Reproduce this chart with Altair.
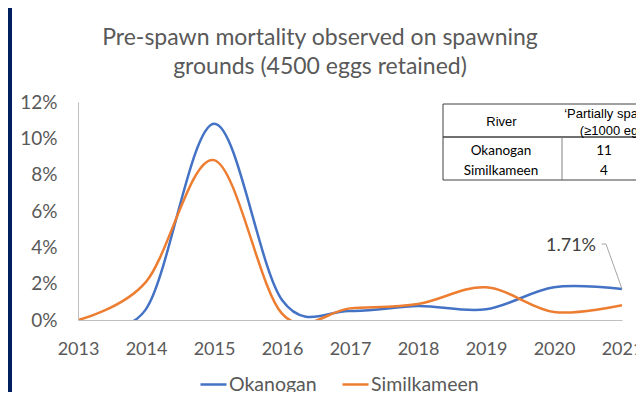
import altair as alt
import pandas as pd

# ---------------- data ----------------
years = [2013, 2014, 2015, 2016, 2017, 2018, 2019, 2020, 2021]
okanogan = [0.0, 0.6, 10.8, 1.1, 0.5, 0.77, 0.59, 1.8, 1.71]         # percent
similkameen = [0.0, 2.1, 8.8, 0.35, 0.64, 0.88, 1.8, 0.44, 0.81]     # percent
series = ["Okanogan", "Similkameen"]
colors = ["#4472C4", "#ED7D31"]
y_ticks = [0, 0.02, 0.04, 0.06, 0.08, 0.10, 0.12]
title_lines = ["Pre-spawn mortality observed on spawning", "grounds (4500 eggs retained)"]
table_rivers = ["Okanogan", "Similkameen"]
table_counts = [11, 4]
table_header = ["River", "\u2018Partially spawned\u2019", "(\u22651000 eggs)"]
label_year = 2021
label_value = 1.71

rows = []
for name, vals in zip(series, [okanogan, similkameen]):
    for yr, v in zip(years, vals):
        rows.append({"year": yr, "river": name, "value": v / 100})
df = pd.DataFrame(rows)

# ---------------- style ----------------
W, H = 544, 218
FONT = "Lato"
GREY = "#595959"
NAVY = "#002060"

x_enc = alt.X(
    "year:Q",
    scale=alt.Scale(domain=[2013, 2021], nice=False, zero=False),
    axis=alt.Axis(values=years, format="d", title=None, labelFlush=False, ticks=False,
                  grid=False, domainColor="#BFBFBF", labelColor=GREY, labelFontSize=18,
                  labelFont=FONT, labelPadding=20, zindex=1),
)
y_enc = alt.Y(
    "value:Q",
    scale=alt.Scale(domain=[0, 0.12], nice=False, zero=True),
    axis=alt.Axis(values=y_ticks, format=".0%", title=None, ticks=False, grid=False,
                  domainColor="#BFBFBF", labelColor=GREY, labelFontSize=19, labelFont=FONT,
                  labelPadding=21, zindex=1),
)

one = pd.DataFrame({"a": [0]})

# navy frame strip at the left edge of the card
frame_strip = alt.Chart(one).mark_rect(color=NAVY).encode(
    x=alt.value(-80), x2=alt.value(-66), y=alt.value(-100), y2=alt.value(400)
)

# title as two centred text lines
title_parts = []
for i, line in enumerate(title_lines):
    title_parts.append(
        alt.Chart(pd.DataFrame({"t": [line]})).mark_text(
            font=FONT, fontSize=23, color=GREY, baseline="alphabetic", align="center"
        ).encode(text="t:N", x=alt.value(242), y=alt.value(-57 + 29 * i))
    )

lines = alt.Chart(df).mark_line(interpolate="cardinal", strokeWidth=2.5, clip=True).encode(
    x=x_enc,
    y=y_enc,
    color=alt.Color(
        "river:N",
        scale=alt.Scale(domain=series, range=colors),
        legend=alt.Legend(orient="none", legendX=121, legendY=268, direction="horizontal",
                          title=None, symbolType="stroke", symbolSize=676,
                          symbolStrokeWidth=2.5, labelFontSize=19.5, labelFont=FONT,
                          labelColor=GREY, columnPadding=20, labelOffset=1, zindex=1),
    ),
)

ann_df = pd.DataFrame({"year": [label_year], "value": [label_value / 100],
                       "label": [f"{label_value:.2f}%"]})
ann = alt.Chart(ann_df).mark_text(dx=-51, dy=-43, fontSize=18, font=FONT,
                                  color="#404040").encode(x=x_enc, y=y_enc, text="label:N")

leader_df = pd.DataFrame({
    "year": [label_year - 0.30, label_year - 0.235, label_year],
    "value": [0.0418, 0.0418, label_value / 100],
})
leader = alt.Chart(leader_df).mark_line(color="#A6A6A6", strokeWidth=1).encode(x=x_enc, y=y_enc)

# ---------------- overlay table ----------------
TL, TR, TT, TB = 365, 600, 2, 78
HSEP, VDIV = 35, 484
table_parts = [
    alt.Chart(one).mark_rect(fill="white", stroke="#404040", strokeWidth=1).encode(
        x=alt.value(TL), x2=alt.value(TR), y=alt.value(TT), y2=alt.value(TB)),
    alt.Chart(one).mark_rule(color="#404040", strokeWidth=1.5).encode(
        x=alt.value(TL), x2=alt.value(TR), y=alt.value(HSEP)),
    alt.Chart(one).mark_rule(color="#808080", strokeWidth=1).encode(
        x=alt.value(VDIV), y=alt.value(HSEP), y2=alt.value(TB)),
]
hdr_pos = [(423.5, 20), (540, 12), (540, 29)]
for txt, (px, py) in zip(table_header, hdr_pos):
    table_parts.append(
        alt.Chart(pd.DataFrame({"t": [txt]})).mark_text(
            font="Liberation Sans", fontSize=13, color="black", baseline="middle"
        ).encode(text="t:N", x=alt.value(px), y=alt.value(py))
    )
for i, (river, cnt) in enumerate(zip(table_rivers, table_counts)):
    py = 49 + 20 * i
    table_parts.append(
        alt.Chart(pd.DataFrame({"t": [river]})).mark_text(
            font=FONT, fontSize=13.5, color="black", baseline="middle"
        ).encode(text="t:N", x=alt.value(423), y=alt.value(py))
    )
    table_parts.append(
        alt.Chart(pd.DataFrame({"t": [str(cnt)]})).mark_text(
            font=FONT, fontSize=13.5, color="black", baseline="middle"
        ).encode(text="t:N", x=alt.value(526), y=alt.value(py))
    )

chart = alt.layer(frame_strip, *title_parts, lines, leader, ann, *table_parts).properties(
    width=W,
    height=H,
    padding={"left": 70, "top": 94, "right": 14, "bottom": 72},
    autosize=alt.AutoSizeParams(type="none"),
    background="white",
).configure_view(stroke=None)

chart.save("out.html", embed_options={"renderer": "svg", "actions": False})
